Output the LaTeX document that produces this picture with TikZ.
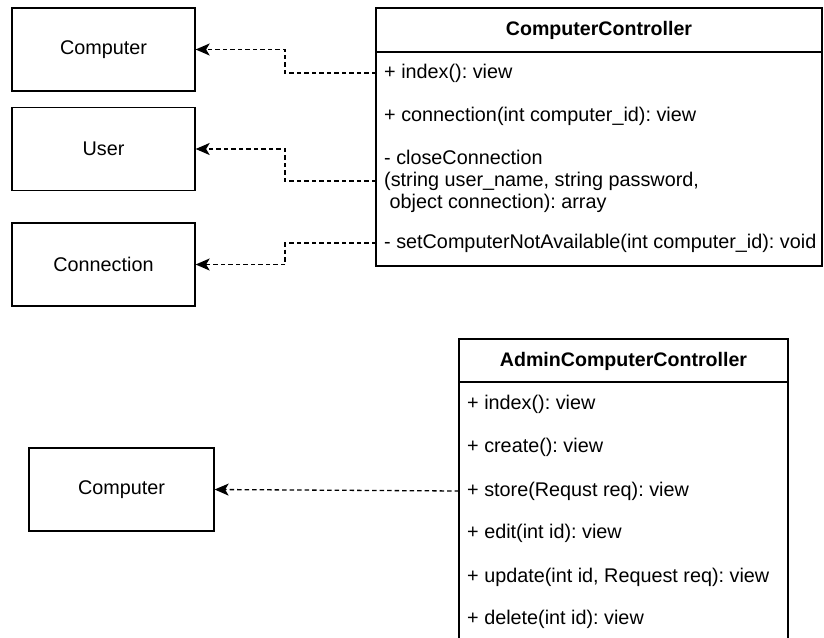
\documentclass[tikz,border=0pt]{standalone}
\usepackage{fontspec}
\setmainfont{Liberation Sans}
\usetikzlibrary{arrows.meta}
\begin{document}
\frenchspacing
\begin{tikzpicture}[x=1pt,y=-1pt,
  txt/.style={font=\fontsize{19.8}{22}\selectfont},
  entity/.style={draw, line width=1.3pt, inner sep=0pt, minimum width=183pt,
    minimum height=83pt, txt},
  classname/.style={font=\fontsize{19.6}{22}\selectfont\bfseries, inner sep=0pt},
  member/.style={txt, anchor=west, inner xsep=8pt, inner ysep=0pt, align=left},
  frame/.style={draw, line width=1.3pt},
  dep/.style={draw, line width=1.3pt, dash pattern=on 4.5pt off 3pt,
    -{Stealth[length=14pt,width=12pt,inset=3.5pt]}}
]
\useasboundingbox (0,0) rectangle (824,637);
\clip (0,0) rectangle (824,637);

% ---- left-hand entities
\node[entity] (computer) at (103.5,49.5) {Computer};
\node[entity] (user) at (103.5,149) {User};
\node[entity] (connection) at (103.5,264.5) {Connection};

% ---- ComputerController class
\draw[frame] (376,8) rectangle (822,266);
\draw[frame] (376,52) -- (822,52);
\node[classname] (cc) at (599,30) {ComputerController};
\node[member] (ccindex) at (376,73) {+ index(): view};
\node[member] (cconn) at (376,116) {+ connection(int computer\_id): view};
\node[member] (cclose) at (376,181) {- closeConnection\\(string user\_name, string password,\\\ object connection): array};
\node[member] (cnotav) at (376,243) {- setComputerNotAvailable(int computer\_id): void};

% ---- dependencies of ComputerController
\draw[dep] (ccindex.west) -- ++(-91,0) |- (computer.east);
\draw[dep] (cclose.west) -- ++(-91,0) |- (user.east);
\draw[dep] (cnotav.west) -- ++(-91,0) |- (connection.east);

% ---- AdminComputerController class
\draw[frame] (459,645) -- (459,339) -- (788,339) -- (788,645);
\draw[frame] (459,382) -- (788,382);
\node[classname] (acc) at (623.5,361) {AdminComputerController};
\node[member] (aindex) at (459,404) {+ index(): view};
\node[member] (acreate) at (459,447) {+ create(): view};
\node[member] (astore) at (459,491) {+ store(Requst req): view};
\node[member] (aedit) at (459,533) {+ edit(int id): view};
\node[member] (aupdate) at (459,577) {+ update(int id, Request req): view};
\node[member] (adelete) at (459,619) {+ delete(int id): view};

\node[entity, minimum width=185pt] (computer2) at (121.5,489.5) {Computer};
\draw[dep] (astore.west) -- (computer2.east);
\end{tikzpicture}
\end{document}
